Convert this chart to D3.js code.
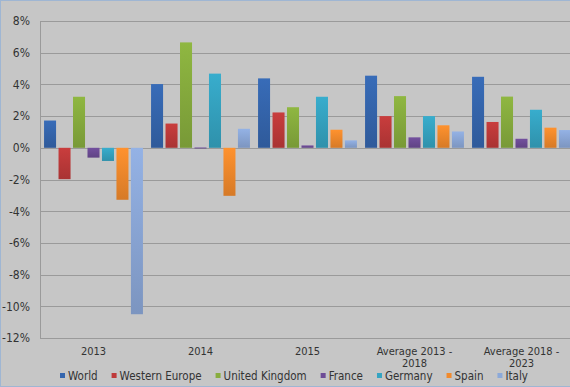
<!DOCTYPE html>
<html>
<head>
<meta charset="utf-8">
<script src="https://cdn.jsdelivr.net/npm/d3@7"></script>
<style>
  html, body { margin: 0; padding: 0; background: #c6c6c6; }
  svg { display: block; font-family: "DejaVu Sans Condensed", "DejaVu Sans", sans-serif; }
</style>
</head>
<body>
<div id="chart"></div>
<script>
// categories and series (growth rates, %)
var categories = ["2013", "2014", "2015", "Average 2013 - 2018", "Average 2018 - 2023"];
var seriesNames = ["World", "Western Europe", "United Kingdom", "France", "Germany", "Spain", "Italy"];
var seriesColors = ["#3566ae", "#bf3a3a", "#88ad3e", "#6d4c96", "#35a4c2", "#f28a2c", "#8ca9d9"];

var world = [1.72, 4.02, 4.38, 4.55, 4.48];
var westernEurope = [-1.98, 1.53, 2.23, 2.0, 1.63];
var unitedKingdom = [3.22, 6.65, 2.56, 3.26, 3.23];
var france = [-0.62, 0.02, 0.15, 0.66, 0.57];
var germany = [-0.83, 4.68, 3.22, 2.0, 2.4];
var spain = [-3.28, -3.03, 1.14, 1.42, 1.27];
var italy = [-10.5, 1.2, 0.47, 1.03, 1.12];
var yTicks = [-12, -10, -8, -6, -4, -2, 0, 2, 4, 6, 8];

var allSeries = [world, westernEurope, unitedKingdom, france, germany, spain, italy];

var width = 570, height = 387;
var margin = {top: 21, right: -5, bottom: 49, left: 40};
var plotW = width - margin.left - margin.right,
    plotH = height - margin.top - margin.bottom;
var fontFam = "'DejaVu Sans Condensed', 'DejaVu Sans', sans-serif";

var svg = d3.select("#chart").append("svg")
    .attr("width", width)
    .attr("height", height);

// outer chart border
svg.append("rect")
    .attr("x", 0.5).attr("y", 0.5)
    .attr("width", width + 10).attr("height", height - 1)
    .attr("fill", "#c6c6c6")
    .attr("stroke", "#9fb6d3");

var defs = svg.append("defs");
seriesColors.forEach(function(c, i) {
    var gr = defs.append("linearGradient")
        .attr("id", "grad" + i)
        .attr("x1", 0).attr("y1", 0).attr("x2", 0).attr("y2", 1);
    gr.append("stop").attr("offset", "0%").attr("stop-color", d3.color(c).brighter(0.15));
    gr.append("stop").attr("offset", "100%").attr("stop-color", d3.color(c).darker(0.35));
});

var g = svg.append("g")
    .attr("transform", "translate(" + margin.left + "," + margin.top + ")");

var x0 = d3.scaleBand()
    .domain(categories)
    .range([0, plotW]);

var x1 = d3.scaleBand()
    .domain(seriesNames)
    .range([0, x0.bandwidth()])
    .paddingInner(0.17)
    .paddingOuter(0.28);

var y = d3.scaleLinear()
    .domain([-12, 8])
    .range([plotH, 0]);

// gridlines
g.append("g")
    .selectAll("line")
    .data(yTicks)
    .enter().append("line")
    .attr("x1", 0).attr("x2", plotW)
    .attr("y1", function(d) { return Math.round(y(d)) + 0.5; })
    .attr("y2", function(d) { return Math.round(y(d)) + 0.5; })
    .attr("stroke", "#9a9a9a")
    .attr("stroke-width", 1);

// left border of plot
g.append("line")
    .attr("x1", 0.5).attr("x2", 0.5)
    .attr("y1", 0).attr("y2", plotH)
    .attr("stroke", "#9a9a9a");

// y axis labels
var yAxis = g.append("g")
    .call(d3.axisLeft(y).tickValues(yTicks).tickSize(0).tickPadding(10)
        .tickFormat(function(d) { return d + "%"; }));
yAxis.select(".domain").remove();
yAxis.selectAll("text")
    .attr("fill", "#333")
    .style("font-size", "12px")
    .style("font-family", fontFam);

// bars
var groups = g.selectAll(".grp")
    .data(categories)
    .enter().append("g")
    .attr("class", "grp")
    .attr("transform", function(d) { return "translate(" + x0(d) + ",0)"; });

groups.selectAll("rect")
    .data(function(c, ci) {
        return seriesNames.map(function(s, si) {
            return {series: s, idx: si, value: allSeries[si][ci]};
        });
    })
    .enter().append("rect")
    .attr("x", function(d) { return x1(d.series); })
    .attr("width", x1.bandwidth())
    .attr("y", function(d) { return y(Math.max(0, d.value)); })
    .attr("height", function(d) { return Math.max(1, Math.abs(y(d.value) - y(0))); })
    .attr("fill", function(d) { return "url(#grad" + d.idx + ")"; });

// category labels (wrapped like Excel)
var xAxis = g.append("g")
    .attr("transform", "translate(0," + plotH + ")")
    .call(d3.axisBottom(x0).tickSize(0).tickPadding(9));
xAxis.select(".domain").remove();
xAxis.selectAll("text")
    .attr("fill", "#333")
    .style("font-size", "11px")
    .style("font-family", fontFam)
    .call(wrap, 90);

function wrap(text, w) {
    text.each(function() {
        var t = d3.select(this),
            words = t.text().split(/\s+/).reverse(),
            word, line = [], lineNo = 0,
            yy = t.attr("y"), dy = parseFloat(t.attr("dy")),
            tspan = t.text(null).append("tspan").attr("x", 0).attr("y", yy).attr("dy", dy + "em");
        while ((word = words.pop())) {
            line.push(word);
            tspan.text(line.join(" "));
            if (tspan.node().getComputedTextLength() > w && line.length > 1) {
                line.pop();
                tspan.text(line.join(" "));
                line = [word];
                tspan = t.append("tspan").attr("x", 0).attr("y", yy)
                    .attr("dy", (++lineNo * 1.1 + dy) + "em").text(word);
            }
        }
    });
}

// legend
var legend = svg.append("g")
    .attr("transform", "translate(0,380)");
var lx = 60;
seriesNames.forEach(function(s, i) {
    var item = legend.append("g").attr("transform", "translate(" + lx + ",0)");
    item.append("rect")
        .attr("x", 0).attr("y", -7)
        .attr("width", 5).attr("height", 5)
        .attr("fill", seriesColors[i]);
    var t = item.append("text")
        .attr("x", 8)
        .attr("fill", "#333")
        .style("font-size", "11.5px")
        .style("font-family", fontFam)
        .text(s);
    lx += 8 + t.node().getComputedTextLength() + 14;
});
</script>
</body>
</html>
